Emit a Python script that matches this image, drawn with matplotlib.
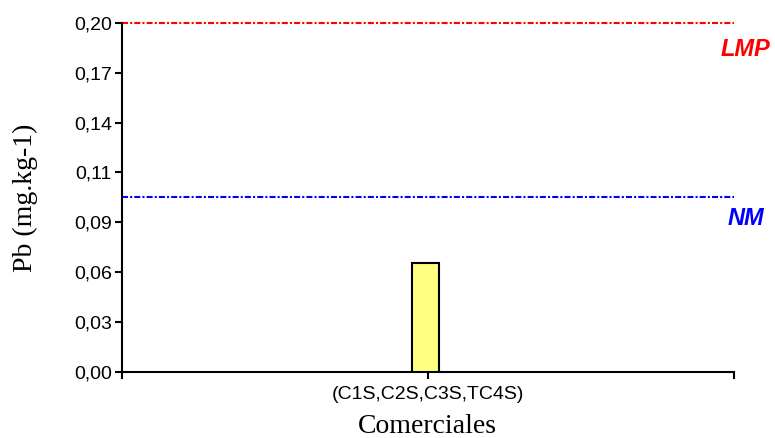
import numpy as np
import matplotlib.pyplot as plt

categories = ['(C1S,C2S,C3S,TC4S)']
pb_values = [0.0625]
lmp_value = 0.20
nm_value = 0.10
ytick_values = np.linspace(0, 0.20, 8)


def main():
    fig = plt.figure(figsize=(7.75, 4.38), dpi=100)
    ax = fig.add_axes([0.157, 0.151, 0.79, 0.797])

    xs = np.arange(len(categories))
    ax.bar(xs - 0.008, pb_values, width=0.088, color='#ffff80', edgecolor='black', linewidth=1.5, zorder=3)
    # reference lines, dash-dot
    ax.axhline(lmp_value, color='red', linewidth=1.5, dashes=(2.9, 1, 1, 1), zorder=2, clip_on=False)
    ax.axhline(nm_value, color='blue', linewidth=1.5, dashes=(2.9, 1, 1, 1), zorder=2)

    ax.set_xlim(-1, 1)
    ax.set_ylim(0, 0.20)
    ax.set_xticks([-1, 0, 1])
    ax.set_xticklabels(['', categories[0], ''], fontsize=14, family='Liberation Sans')
    ax.set_yticks(ytick_values)
    ax.set_yticklabels(['{:.2f}'.format(v).replace('.', ',') for v in ytick_values],
                       fontsize=14, family='Liberation Sans')

    for side in ['top', 'right']:
        ax.spines[side].set_visible(False)
    for side in ['left', 'bottom']:
        ax.spines[side].set_linewidth(1.5)
    ax.tick_params(width=1.5, length=5, direction='out', pad=2)
    ax.tick_params(axis='x', pad=5)

    ax.set_ylabel('Pb (mg.kg-1)', fontsize=20, family='Liberation Serif', labelpad=26)
    ax.set_xlabel('Comerciales', fontsize=20, family='Liberation Serif', labelpad=8)

    fig.text(0.962, 0.888, 'LMP', color='red', fontsize=17, fontweight='bold', fontstyle='italic',
             family='Liberation Sans', ha='center', va='center')
    fig.text(0.962, 0.502, 'NM', color='blue', fontsize=17, fontweight='bold', fontstyle='italic',
             family='Liberation Sans', ha='center', va='center')

    fig.savefig('out.png', dpi=100)


if __name__ == '__main__':
    main()
